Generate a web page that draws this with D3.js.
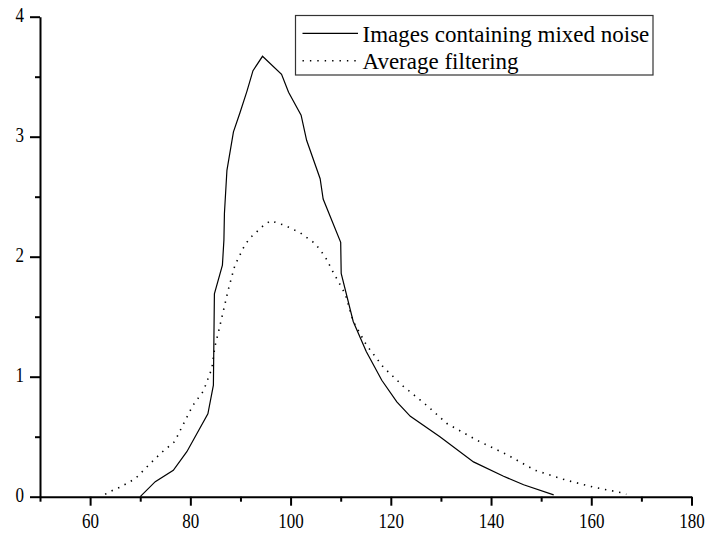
<!DOCTYPE html>
<html>
<head>
<meta charset="utf-8">
<script src="https://cdn.jsdelivr.net/npm/d3@7"></script>
<style>
  html, body { margin: 0; padding: 0; background: #fff; }
</style>
</head>
<body>
<svg id="chart" width="709" height="534"></svg>
<script>
// series
const noisyX = [70, 73, 76.6, 79.3, 83.5, 84.6, 84.8, 86.4, 86.7, 86.8, 87.3, 88.6, 89.9, 91.3, 92.5, 94.4,
  98.2, 99.6, 102.1, 103.2, 105.9, 106.5, 110.0, 110.1, 112.5, 115.1, 118.2, 121.2, 123.9, 129.8, 136.5,
  142.5, 146.5, 152.5];
const noisyY = [0, 0.125, 0.22, 0.375, 0.69, 0.93, 1.69, 1.93, 2.14, 2.36, 2.72, 3.04, 3.2, 3.38, 3.55, 3.67,
  3.52, 3.37, 3.18, 2.97, 2.65, 2.48, 2.12, 1.86, 1.46, 1.21, 0.97, 0.79, 0.67, 0.5, 0.29,
  0.17, 0.10, 0.015];

const avgX = [63, 64.6, 66, 69, 71.6, 74.3, 76.9, 78.3, 80.5, 82.6, 84.3, 84.9, 85.6, 86.6, 87.6, 88.9,
  90.9, 92.0, 94.6, 96.0, 98.9, 101.9, 104.9, 106.9, 108.5, 110.9, 112.5, 115.2, 118.5, 122.5, 127.2,
  131.2, 137.2, 143.2, 148.8, 154.8, 160.4, 166.4, 167];
const avgY = [0.02, 0.055, 0.08, 0.15, 0.26, 0.37, 0.46, 0.58, 0.76, 0.88, 1.07, 1.25, 1.37, 1.55, 1.73, 1.93,
  2.1, 2.16, 2.26, 2.3, 2.26, 2.2, 2.11, 2.0, 1.87, 1.69, 1.46, 1.26, 1.08, 0.92, 0.76,
  0.61, 0.47, 0.35, 0.22, 0.14, 0.08, 0.03, 0.02];

const xMajor = [60, 80, 100, 120, 140, 160, 180];
const xMinor = [50, 70, 90, 110, 130, 150, 170];
const yMajor = [0, 1, 2, 3, 4];
const yMinor = [0.5, 1.5, 2.5, 3.5];
const legendNames = ['Images containing mixed noise', 'Average filtering'];

const serif = '"Liberation Serif", "Times New Roman", serif';
const svg = d3.select('#chart');

const x = d3.scaleLinear().domain([50, 180]).range([40, 691.5]);
const y = d3.scaleLinear().domain([0, 4]).range([496.7, 16.7]);

// x axis
const xg = svg.append('g').attr('transform', `translate(0,${y(0)})`);
xg.call(d3.axisBottom(x).tickValues(xMajor).tickSize(9).tickSizeOuter(0).tickPadding(8).tickFormat(d3.format('d')));
xg.append('g').call(d3.axisBottom(x).tickValues(xMinor).tickSize(5).tickFormat('')).select('.domain').remove();

// y axis
const yg = svg.append('g').attr('transform', `translate(${x(50)},0)`);
yg.call(d3.axisLeft(y).tickValues(yMajor).tickSize(10).tickSizeOuter(0).tickPadding(6).tickFormat(d3.format('d')));
yg.append('g').call(d3.axisLeft(y).tickValues(yMinor).tickSize(5).tickFormat('')).select('.domain').remove();

svg.selectAll('.domain').attr('stroke', '#000').attr('stroke-width', 2);
svg.selectAll('.tick line').attr('stroke', '#000').attr('stroke-width', 2);
[xg, yg].forEach(g => g.attr('font-family', serif).attr('font-size', 20));
svg.selectAll('.tick text').attr('fill', '#000');
xg.selectAll('.tick text').attr('dy', '0.71em');
yg.selectAll('.tick text').attr('dy', '0.26em');
// the original labels are a little narrower than plain Times
svg.selectAll('.tick text').each(function () {
  const w = this.getComputedTextLength();
  if (w > 0) d3.select(this).attr('textLength', w * 0.85).attr('lengthAdjust', 'spacingAndGlyphs');
});

// curves
const line = d3.line().x(d => x(d[0])).y(d => y(d[1]));

svg.append('path')
  .datum(noisyX.map((v, i) => [v, noisyY[i]]))
  .attr('fill', 'none')
  .attr('stroke', '#000')
  .attr('stroke-width', 1.2)
  .attr('d', line);

svg.append('path')
  .datum(avgX.map((v, i) => [v, avgY[i]]))
  .attr('fill', 'none')
  .attr('stroke', '#000')
  .attr('stroke-width', 1.6)
  .attr('stroke-dasharray', '1.4,5.8')
  .attr('d', line);

// legend
const lg = svg.append('g').attr('font-family', serif);
lg.append('rect')
  .attr('x', 295.5).attr('y', 15.5).attr('width', 357.5).attr('height', 59.5)
  .attr('fill', '#fff').attr('stroke', '#333').attr('stroke-width', 1.2);

const rows = [
  { name: legendNames[0], dash: null, ly: 33.3, ty: 41.5 },
  { name: legendNames[1], dash: '1.4,6', ly: 60.7, ty: 69 }
];
rows.forEach(r => {
  lg.append('line')
    .attr('x1', 302.5).attr('x2', 358).attr('y1', r.ly).attr('y2', r.ly)
    .attr('stroke', '#000').attr('stroke-width', r.dash ? 1.6 : 1.2)
    .attr('stroke-dasharray', r.dash);
  lg.append('text')
    .attr('x', 362.5).attr('y', r.ty)
    .attr('font-size', 23)
    .attr('fill', '#000')
    .text(r.name);
});
</script>
</body>
</html>
